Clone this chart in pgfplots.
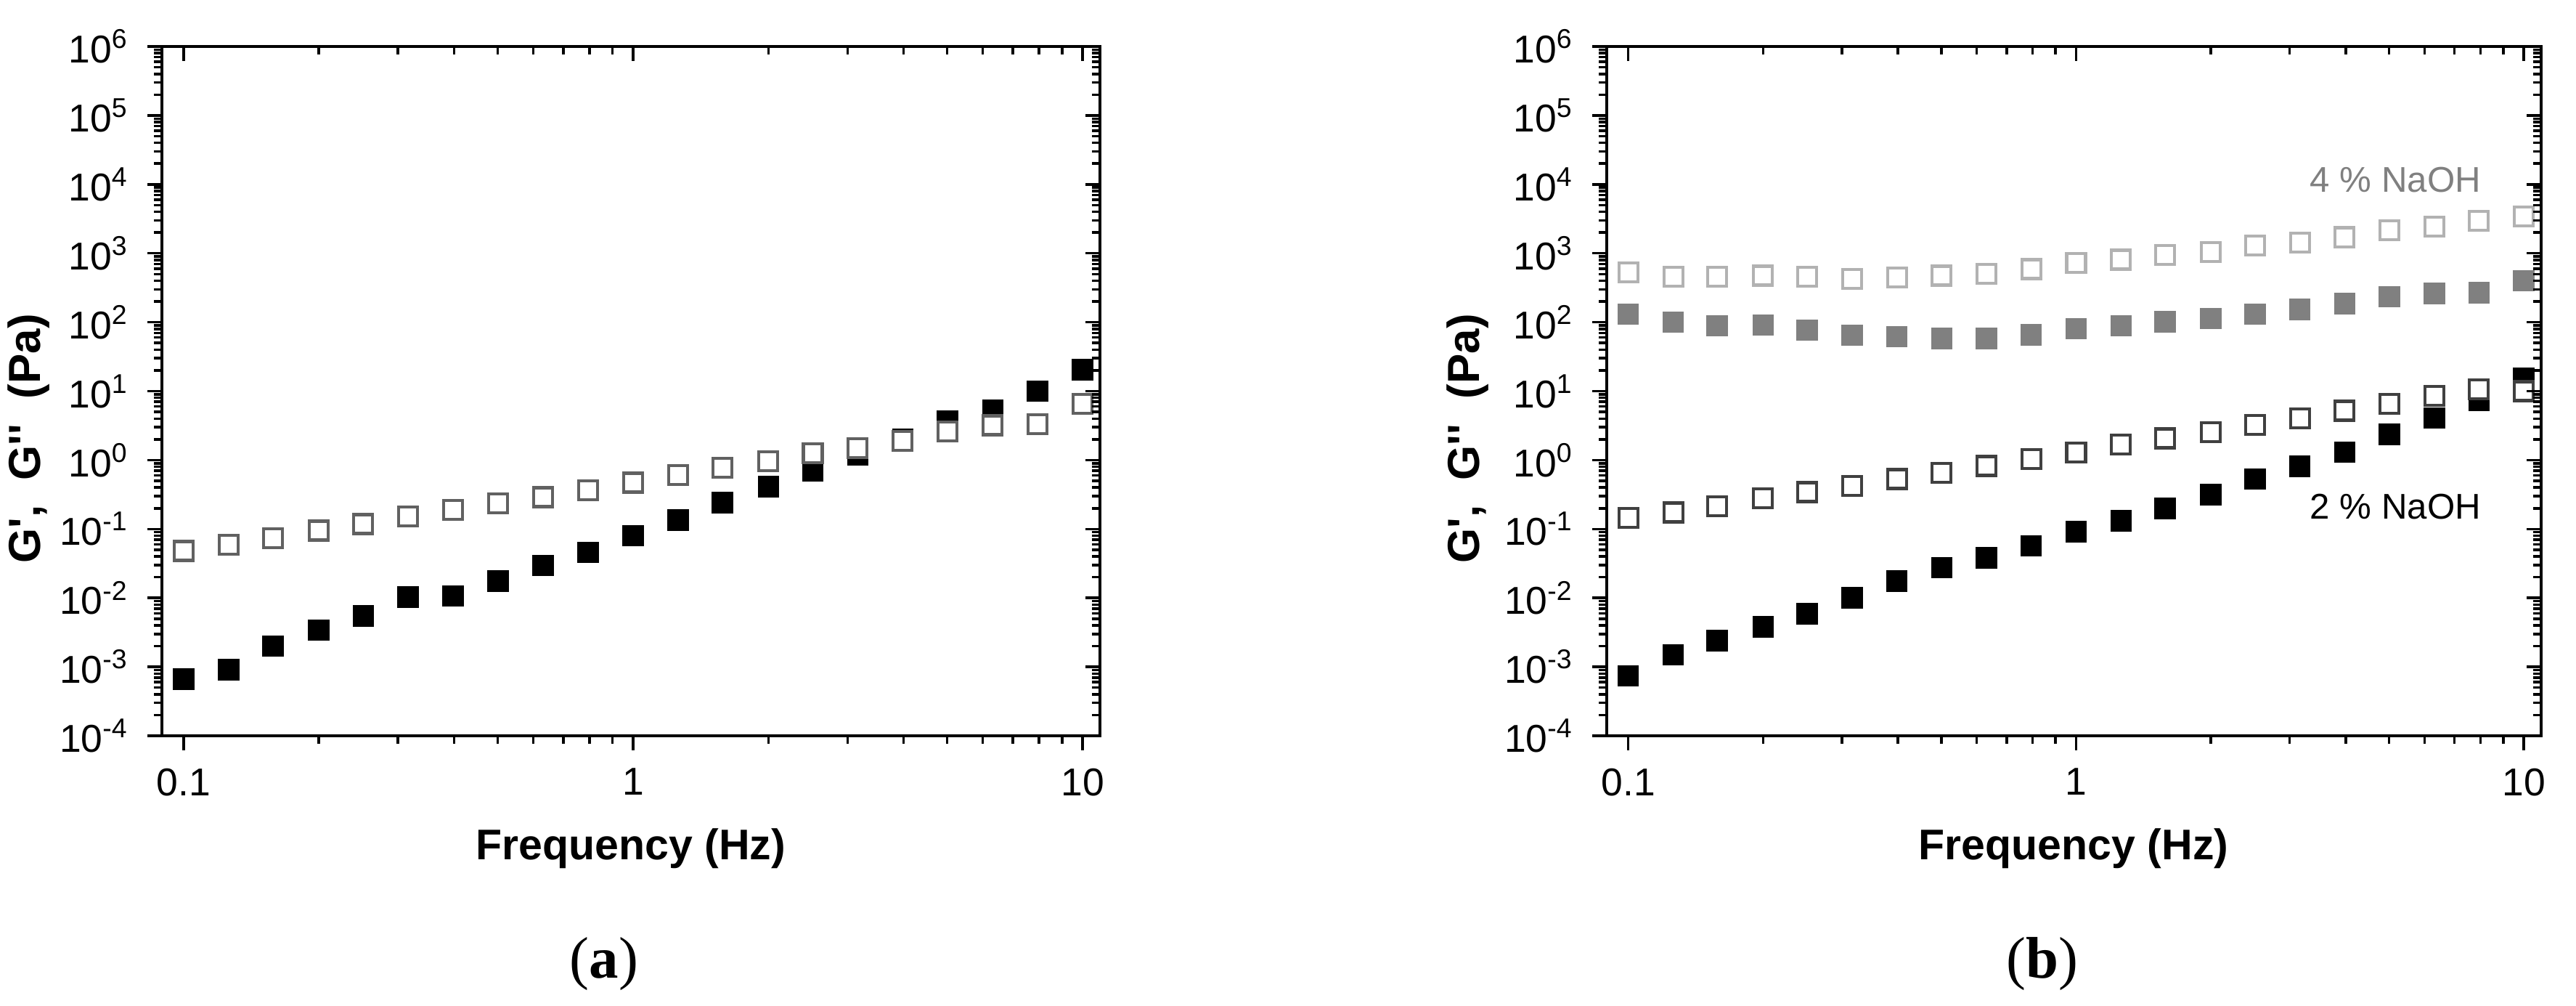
\documentclass[border=0pt]{standalone}
\usepackage{fontspec}
\setmainfont{Liberation Sans}[Ligatures=TeXOff]
\newfontfamily\seriffont{Liberation Serif}
\usepackage{pgfplots}
\pgfplotsset{compat=1.18}

\definecolor{openA}{gray}{0.38}
\definecolor{openTwo}{gray}{0.25}
\definecolor{openFour}{gray}{0.70}
\definecolor{fillFour}{gray}{0.50}

\pgfplotsset{
  every axis/.append style={
    scale only axis, height=4.745cm, anchor=south west,
    xmode=log, ymode=log,
    xmin=0.0895, xmax=10.93, ymin=1e-4, ymax=1e6,
    xtick={0.1,1,10},
    ytick={1e-4,1e-3,1e-2,1e-1,1,10,100,1000,1e4,1e5,1e6},
    major tick length=0.1cm, minor tick length=0.055cm,
    axis line style={line width=0.7pt},
    every tick/.style={black, line width=0.5pt},
    tick label style={font=\fontsize{7.6}{8}\selectfont},
  },
  fullsq/.style={only marks, mark=square*, mark size=2.0pt, mark options={draw=#1, fill=#1, line width=0.2pt}},
  emptysq/.style={only marks, mark=square*, mark size=1.85pt, mark options={draw=#1, fill=white, line width=0.6pt}},
}

\begin{document}
\begin{tikzpicture}
\useasboundingbox (0,0) rectangle (17.74,6.92);

% (a)
\begin{axis}[at={(1.115cm,1.855cm)}, width=6.46cm,
    tick align=outside, xtick pos=bottom, ytick pos=left,
    xticklabels={0.1,1,10},
    yticklabels={10\textsuperscript{-4},10\textsuperscript{-3},10\textsuperscript{-2},10\textsuperscript{-1},
      10\textsuperscript{0},10\textsuperscript{1},10\textsuperscript{2},10\textsuperscript{3},
      10\textsuperscript{4},10\textsuperscript{5},10\textsuperscript{6}}]
\addplot[fullsq=black] coordinates {
 (0.1,6.6e-4) (0.126,9.1e-4) (0.158,2.0e-3) (0.2,3.4e-3) (0.251,5.5e-3)
 (0.316,0.0103) (0.398,0.0107) (0.501,0.0175) (0.631,0.0295) (0.794,0.046)
 (1,0.08) (1.26,0.134) (1.58,0.24) (2,0.41) (2.51,0.70)
 (3.16,1.18) (3.98,2.0) (5.01,3.7) (6.31,5.3) (7.94,10) (10,20.5)};
\addplot[emptysq=openA] coordinates {
 (0.1,0.048) (0.126,0.059) (0.158,0.074) (0.2,0.095) (0.251,0.118)
 (0.316,0.152) (0.398,0.19) (0.501,0.234) (0.631,0.29) (0.794,0.365)
 (1,0.47) (1.26,0.61) (1.58,0.77) (2,0.96) (2.51,1.26)
 (3.16,1.5) (3.98,1.9) (5.01,2.6) (6.31,3.2) (7.94,3.3) (10,6.6)};
\end{axis}
\begin{axis}[at={(1.115cm,1.855cm)}, width=6.46cm,
    tick align=inside, xtick pos=top, ytick pos=right,
    xticklabels={}, yticklabels={}]
\end{axis}

% (b)
\begin{axis}[at={(11.065cm,1.855cm)}, width=6.435cm,
    tick align=outside, xtick pos=bottom, ytick pos=left,
    xticklabels={0.1,1,10},
    yticklabels={10\textsuperscript{-4},10\textsuperscript{-3},10\textsuperscript{-2},10\textsuperscript{-1},
      10\textsuperscript{0},10\textsuperscript{1},10\textsuperscript{2},10\textsuperscript{3},
      10\textsuperscript{4},10\textsuperscript{5},10\textsuperscript{6}}]
\addplot[fullsq=fillFour] coordinates {
 (0.1,131) (0.126,100) (0.158,89) (0.2,91) (0.251,77)
 (0.316,65) (0.398,62) (0.501,58) (0.631,58) (0.794,66)
 (1,81) (1.26,89) (1.58,102) (2,113) (2.51,131)
 (3.16,153) (3.98,186) (5.01,235) (6.31,260) (7.94,267) (10,400)};
\addplot[emptysq=openFour] coordinates {
 (0.1,525) (0.126,455) (0.158,455) (0.2,475) (0.251,455)
 (0.316,427) (0.398,446) (0.501,475) (0.631,505) (0.794,590)
 (1,725) (1.26,810) (1.58,940) (2,1050) (2.51,1290)
 (3.16,1440) (3.98,1710) (5.01,2140) (6.31,2460) (7.94,2940) (10,3400)};
\addplot[fullsq=black] coordinates {
 (0.1,7.4e-4) (0.126,1.5e-3) (0.158,2.4e-3) (0.2,3.8e-3) (0.251,5.9e-3)
 (0.316,0.01) (0.398,0.0175) (0.501,0.0275) (0.631,0.038) (0.794,0.057)
 (1,0.091) (1.26,0.131) (1.58,0.2) (2,0.315) (2.51,0.53)
 (3.16,0.81) (3.98,1.3) (5.01,2.35) (6.31,4.1) (7.94,7.3) (10,15.5)};
\addplot[emptysq=openTwo] coordinates {
 (0.1,0.146) (0.126,0.174) (0.158,0.214) (0.2,0.277) (0.251,0.343)
 (0.316,0.425) (0.398,0.53) (0.501,0.65) (0.631,0.82) (0.794,1.04)
 (1,1.29) (1.26,1.67) (1.58,2.07) (2,2.56) (2.51,3.24)
 (3.16,4.0) (3.98,5.2) (5.01,6.6) (6.31,8.5) (7.94,10.7) (10,10)};
\node[anchor=east, text=fillFour, font=\fontsize{7}{8}\selectfont] at (axis cs:8.8,1.15e4) {4 \% NaOH};
\node[anchor=east, font=\fontsize{7}{8}\selectfont] at (axis cs:8.8,0.21) {2 \% NaOH};
\end{axis}
\begin{axis}[at={(11.065cm,1.855cm)}, width=6.435cm,
    tick align=inside, xtick pos=top, ytick pos=right,
    xticklabels={}, yticklabels={}]
\end{axis}

% axis titles and panel letters
\node[rotate=90, font=\bfseries\fontsize{8.8}{10}\selectfont] at (0.2,3.9) {G',\ \ G''\ \ (Pa)};
\node[rotate=90, font=\bfseries\fontsize{8.8}{10}\selectfont] at (10.105,3.9) {G',\ \ G''\ \ (Pa)};
\node[font=\bfseries\fontsize{8.4}{10}\selectfont] at (4.345,1.08) {Frequency (Hz)};
\node[font=\bfseries\fontsize{8.4}{10}\selectfont] at (14.28,1.08) {Frequency (Hz)};
\node[font=\seriffont\fontsize{11.5}{13}\selectfont] at (4.16,0.285) {(\textbf{a})};
\node[font=\seriffont\fontsize{11.5}{13}\selectfont] at (14.065,0.285) {(\textbf{b})};
\end{tikzpicture}
\end{document}
